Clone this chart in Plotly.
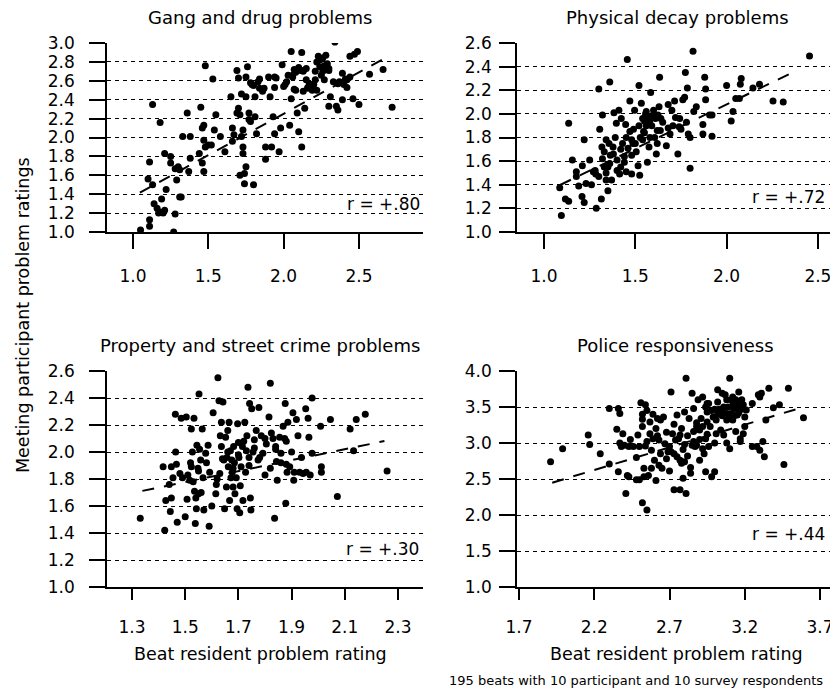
import plotly.graph_objects as go

FONT = "DejaVu Sans"

# ---------------- Data ----------------
titles = ["Gang and drug problems", "Physical decay problems",
          "Property and street crime problems", "Police responsiveness"]
r_labels = ["r = +.80", "r = +.72", "r = +.30", "r = +.44"]

gang_x = [1.05,1.11,1.11,1.11,1.10,1.13,1.13,1.18,1.14,1.16,1.17,1.18,1.19,1.20,1.21,1.22,1.21,1.25,1.25,1.27,
          1.28,1.29,1.30,1.31,1.32,1.31,1.28,1.33,1.37,1.38,1.36,1.38,1.44,1.45,1.46,1.46,1.47,1.47,1.47,1.48,
          1.48,1.50,1.52,1.53,1.54,1.55,1.58,1.61,1.65,1.66,1.66,1.67,1.69,1.70,1.69,1.71,1.71,1.72,1.73,1.73,
          1.73,1.74,1.74,1.75,1.75,1.76,1.75,1.77,1.77,1.78,1.79,1.80,1.81,1.81,1.82,1.83,1.84,1.87,1.88,1.88,
          1.90,1.91,1.92,1.93,1.94,1.94,1.94,1.95,1.97,1.98,1.99,2.00,2.01,2.02,2.03,2.04,2.05,2.05,2.06,2.06,
          2.08,2.08,2.09,2.10,2.11,2.12,2.12,2.13,2.14,2.15,2.15,2.16,2.17,2.19,2.20,2.21,2.21,2.22,2.23,2.24,
          2.25,2.26,2.26,2.27,2.28,2.29,2.30,2.30,2.31,2.33,2.34,2.35,2.36,2.37,2.39,2.39,2.40,2.42,2.44,2.44,
          2.46,2.47,2.50,2.57,2.66,2.72,2.49,2.42,
          2.22,2.24,2.27,2.30,2.07,2.10,2.13,1.78,1.80,1.84,2.07,2.13,2.16,2.36,2.39,2.41,1.86,1.70,1.72]
gang_y = [1.02,1.06,1.13,1.74,1.56,1.50,2.35,2.16,1.30,1.25,1.20,1.21,1.35,1.20,1.23,1.45,1.83,1.80,1.73,1.00,
          1.19,1.55,1.69,1.37,1.37,1.66,1.67,2.01,1.64,2.01,2.26,1.78,1.83,2.32,1.73,2.10,1.97,2.13,1.64,2.76,
          1.90,1.92,1.92,2.62,2.08,2.24,2.01,1.85,2.43,2.10,1.96,2.03,2.71,2.31,2.26,2.24,1.60,2.01,2.08,1.90,
          1.83,1.62,1.51,1.69,2.43,2.75,2.64,2.26,2.19,2.17,2.56,1.50,2.22,2.43,2.04,2.59,2.62,2.52,1.77,1.90,
          2.64,2.43,1.90,2.22,2.64,2.53,2.04,2.63,1.85,2.10,2.77,2.54,2.56,2.59,2.66,2.13,2.91,2.41,2.66,2.64,
          2.69,2.50,2.26,2.06,2.71,1.90,2.90,2.71,2.31,2.61,2.73,2.53,2.57,2.50,2.56,2.61,2.70,2.50,2.86,2.75,
          2.66,2.84,2.70,2.61,2.87,2.78,2.71,2.33,2.43,2.59,3.01,2.33,2.29,2.59,2.68,2.40,2.56,2.53,2.64,2.86,
          2.41,2.88,2.35,2.67,2.72,2.32,2.91,2.61,
          2.80,2.82,2.76,2.73,2.72,2.74,2.70,2.58,2.55,2.52,2.51,2.49,2.52,2.57,2.58,2.62,2.49,2.63,2.46]

decay_x = [1.095,1.086,1.117,1.135,1.135,1.155,1.177,1.177,1.19,1.208,1.22,1.22,1.21,1.23,1.25,1.27,1.283,1.286,
           1.30,1.30,1.305,1.314,1.317,1.32,1.33,1.33,1.34,1.34,1.35,1.35,1.356,1.36,1.363,1.37,1.378,1.383,1.39,
           1.396,1.40,1.41,1.414,1.42,1.423,1.43,1.44,1.447,1.45,1.456,1.46,1.47,1.47,1.48,1.48,1.487,1.49,1.496,
           1.505,1.515,1.52,1.524,1.527,1.533,1.54,1.54,1.545,1.55,1.556,1.56,1.566,1.57,1.575,1.578,1.584,1.59,
           1.597,1.606,1.61,1.615,1.62,1.624,1.63,1.633,1.637,1.64,1.67,1.68,1.69,1.70,1.706,1.715,1.72,1.733,
           1.74,1.743,1.75,1.76,1.77,1.774,1.78,1.785,1.79,1.80,1.80,1.816,1.82,1.834,1.87,1.87,1.88,1.885,1.885,
           1.907,1.92,1.92,2.00,2.025,2.035,2.05,2.07,2.075,2.08,2.144,2.18,2.254,2.31,2.454,
           1.32,1.36,1.38,1.42,1.45,1.50,1.52,1.55,1.58,1.60,1.65,1.44,1.48,1.56,1.62,1.68,1.26,1.28,1.34,1.40]
decay_y = [1.14,1.375,1.28,1.26,1.92,1.61,1.51,1.47,1.39,1.30,1.25,1.78,1.56,1.41,1.61,1.51,1.49,1.20,
           2.21,1.47,1.87,1.28,1.72,1.99,1.55,1.68,1.44,1.78,1.35,1.55,1.75,2.27,1.65,1.44,1.72,2.01,1.80,
           1.92,1.61,2.03,1.49,1.55,1.96,1.75,1.59,1.91,1.51,2.46,1.71,1.85,2.11,1.65,1.49,1.75,1.87,2.03,
           1.68,1.56,2.24,1.48,1.80,2.09,1.96,1.78,1.85,1.94,2.00,1.90,1.59,1.98,1.72,1.94,2.18,1.90,
           1.99,1.80,1.96,1.66,1.86,1.99,2.06,2.31,1.86,1.96,1.73,2.08,1.83,2.03,1.90,2.11,1.97,1.66,
           1.89,1.96,1.87,2.12,2.14,2.35,1.93,2.22,1.83,1.54,1.80,2.53,2.02,2.06,1.91,1.83,2.31,2.21,2.12,
           1.99,1.81,1.99,2.24,1.94,2.02,2.13,2.13,2.25,2.30,2.22,2.25,2.11,2.10,2.49,
           1.62,1.58,1.66,1.70,1.80,1.75,1.90,1.84,1.80,2.03,1.93,1.64,1.78,2.02,1.75,1.88,1.40,1.52,1.50,1.52]

crime_x = [1.331,1.417,1.423,1.427,1.44,1.444,1.448,1.448,1.454,1.463,1.464,1.467,1.47,1.485,1.49,1.50,1.504,1.507,
           1.51,1.517,1.523,1.523,1.527,1.53,1.533,1.535,1.538,1.54,1.542,1.544,1.548,1.55,1.554,1.558,1.56,1.564,
           1.567,1.57,1.577,1.586,1.59,1.592,1.60,1.605,1.615,1.617,1.623,1.627,1.63,1.632,1.636,1.636,1.642,1.645,
           1.648,1.652,1.655,1.657,1.66,1.662,1.665,1.667,1.67,1.672,1.675,1.677,1.68,1.682,1.685,1.687,1.692,1.695,
           1.697,1.70,1.702,1.705,1.707,1.71,1.715,1.717,1.724,1.727,1.73,1.732,1.736,1.74,1.742,1.745,1.747,1.75,
           1.755,1.76,1.767,1.774,1.777,1.786,1.792,1.80,1.805,1.815,1.82,1.824,1.83,1.836,1.84,1.843,1.846,1.855,
           1.86,1.868,1.874,1.876,1.878,1.88,1.883,1.886,1.893,1.90,1.905,1.908,1.91,1.918,1.924,1.93,1.937,1.943,
           1.953,1.955,1.962,1.965,1.97,1.977,1.977,2.009,2.012,2.012,2.046,2.072,2.12,2.133,2.143,2.177,2.259,1.552,
           1.66,1.68,1.70,1.72,1.74,1.76,1.78,1.80,1.84,1.86,1.88,1.64,1.62,1.58,1.55,1.52,1.48,1.82]
crime_y = [1.51,1.89,1.42,1.64,1.76,1.56,1.66,1.89,1.81,2.28,2.00,1.91,1.48,2.25,1.81,1.52,2.26,1.65,
           1.83,1.79,2.17,1.89,2.00,1.78,2.25,1.71,1.47,1.66,1.58,2.05,1.88,1.69,2.02,1.94,1.70,2.17,
           1.81,1.57,1.99,2.05,1.45,1.85,1.60,2.29,1.69,1.76,2.55,2.38,1.84,2.12,2.22,2.04,2.37,1.94,
           1.58,2.11,1.74,1.96,2.16,1.89,2.22,1.64,2.01,1.81,1.94,1.85,1.74,2.04,1.92,1.69,1.81,1.58,
           2.21,2.07,1.96,1.55,1.75,1.89,2.04,1.64,2.22,1.85,2.01,2.12,2.48,1.96,2.36,1.66,1.57,2.32,
           2.00,2.09,2.16,1.94,2.33,2.12,1.99,1.83,2.06,2.26,2.51,2.14,2.10,1.51,2.04,1.93,1.79,2.11,
           1.99,2.19,2.10,2.36,1.62,1.91,1.85,2.22,1.89,2.00,2.29,1.79,1.85,2.24,2.12,1.85,1.96,1.84,
           2.32,1.85,2.25,2.11,1.83,2.40,1.99,2.19,1.89,1.85,2.24,1.67,2.17,2.01,2.24,2.28,1.86,2.43,
           2.00,1.88,1.98,2.08,1.90,2.03,1.96,2.10,2.02,1.92,2.08,1.95,1.80,1.92,1.86,1.92,1.84,1.88]

police_x = [1.91,1.99,2.16,2.17,2.24,2.30,2.30,2.35,2.36,2.36,2.37,2.37,2.38,2.39,2.40,2.41,2.42,2.43,2.43,2.44,
            2.46,2.48,2.48,2.49,2.50,2.50,2.51,2.52,2.52,2.52,2.53,2.53,2.54,2.54,2.55,2.55,2.56,2.57,2.57,2.58,
            2.59,2.59,2.60,2.61,2.61,2.62,2.63,2.63,2.64,2.65,2.66,2.67,2.68,2.69,2.70,2.71,2.71,2.72,2.73,2.73,
            2.74,2.75,2.75,2.76,2.77,2.77,2.78,2.79,2.79,2.80,2.80,2.81,2.81,2.82,2.83,2.84,2.84,2.85,2.85,2.86,
            2.86,2.87,2.88,2.88,2.89,2.90,2.90,2.91,2.92,2.92,2.92,2.93,2.94,2.94,2.94,2.95,2.95,2.96,2.96,2.97,
            2.98,2.99,3.00,3.00,3.01,3.01,3.02,3.02,3.03,3.04,3.05,3.05,3.06,3.06,3.07,3.08,3.08,3.08,3.09,3.10,
            3.10,3.10,3.11,3.11,3.12,3.12,3.13,3.14,3.14,3.15,3.15,3.16,3.16,3.17,3.17,3.18,3.19,3.19,3.20,3.21,
            3.25,3.25,3.28,3.29,3.30,3.30,3.31,3.32,3.33,3.34,3.36,3.39,3.43,3.46,3.49,3.59,2.73,2.77,
            2.95,2.98,3.02,3.05,3.08,3.12,3.13,3.16,3.18,3.20,2.52,2.55,2.58,2.62,2.64,2.68,2.70,
            2.78,2.82,2.86,2.90,2.95,3.00,2.88,2.80]
police_y = [2.74,2.92,3.11,2.98,2.85,3.48,2.71,3.19,2.60,3.48,3.41,3.00,2.95,3.13,2.97,2.30,2.55,2.95,2.53,3.05,
            2.95,2.80,2.49,3.11,2.95,2.49,3.56,3.33,2.17,3.23,2.53,2.65,2.96,3.53,3.45,2.07,2.55,3.13,3.29,2.65,
            3.40,3.06,2.76,3.20,2.48,3.34,2.69,3.04,3.32,2.65,3.36,2.99,2.78,2.88,2.61,3.71,2.88,3.13,3.26,2.85,
            3.04,2.81,3.39,3.06,2.76,3.11,2.72,2.51,2.91,3.43,2.74,2.30,3.90,2.82,3.34,2.66,2.58,3.69,2.97,3.16,
            3.48,2.95,3.23,2.97,3.60,3.18,2.76,3.34,2.92,3.64,3.23,2.85,2.60,3.50,3.06,3.43,3.29,2.95,3.55,3.23,
            2.53,3.36,3.47,2.60,3.32,3.13,3.57,3.74,3.47,3.18,3.69,3.46,3.11,3.50,3.67,3.32,3.41,3.00,3.50,2.92,
            3.90,3.34,3.60,3.41,3.32,3.64,3.48,3.16,3.60,3.39,3.53,3.71,3.46,3.06,3.02,3.47,3.13,3.53,3.23,3.46,
            3.55,2.95,2.95,3.67,3.64,2.90,3.69,3.02,2.81,3.32,3.76,3.49,3.53,2.70,3.76,3.35,2.35,2.35,
            3.55,3.45,3.40,3.38,3.60,3.52,3.38,3.42,3.60,3.36,3.40,3.02,2.90,3.10,2.85,3.15,2.95,
            3.20,3.10,3.02,3.05,3.12,3.00,3.28,2.98]

# regression lines (endpoints)
fit_x = [[1.046, 2.69], [1.088, 2.359], [1.339, 2.249], [1.921, 3.562]]
fit_y = [[1.416, 2.855], [1.398, 2.349], [1.712, 2.081], [2.449, 3.482]]

# axis settings
x_ranges = [[0.8275, 2.925], [0.852, 2.599], [1.206, 2.394], [1.687, 3.806]]
x_ticks = [[1.0, 1.5, 2.0, 2.5], [1.0, 1.5, 2.0, 2.5],
           [1.3, 1.5, 1.7, 1.9, 2.1, 2.3], [1.7, 2.2, 2.7, 3.2, 3.7]]
y_ranges = [[1.0, 3.0], [1.0, 2.6], [1.0, 2.6], [1.0, 4.0]]
y_dticks = [0.2, 0.2, 0.2, 0.5]
r_pos = [(2.92, 1.30), (2.549, 1.30), (2.386, 1.28), (3.746, 1.74)]

xs = [gang_x, decay_x, crime_x, police_x]
ys = [gang_y, decay_y, crime_y, police_y]

# ---------------- Layout geometry (pixels in the 838x693 page) ----------------
PAGE_W, PAGE_H = 838, 693
OFF = 8  # page body margin
W, H = PAGE_W - OFF, PAGE_H - OFF


def px(x):
    return (x - OFF) / W


def py(y):
    return 1 - (y - OFF) / H


x_dom_px = [(107, 423), (517, 836), (107, 423), (517, 836)]
y_dom_px = [(43, 232), (43, 232), (371, 587), (371, 587)]
title_pos = [(260, 18), (677, 18), (260, 345), (675, 345)]

fig = go.Figure()
layout = dict(
    width=W, height=H, margin=dict(l=0, r=0, t=0, b=0, pad=0, autoexpand=False),
    paper_bgcolor="white", plot_bgcolor="white", showlegend=False,
    font=dict(family=FONT, size=17, color="black"),
)
annotations = []
for i in range(4):
    sfx = "" if i == 0 else str(i + 1)
    xa, ya = "x" + sfx, "y" + sfx
    fig.add_trace(go.Scatter(
        x=fit_x[i], y=fit_y[i], mode="lines", xaxis=xa, yaxis=ya,
        line=dict(color="black", width=2, dash="12px,10px"), hoverinfo="skip"))
    fig.add_trace(go.Scatter(
        x=xs[i], y=ys[i], mode="markers", xaxis=xa, yaxis=ya,
        marker=dict(color="black", size=7, line=dict(width=0))))
    top = i < 2
    left = i % 2 == 0
    layout["xaxis" + sfx] = dict(
        domain=[px(x_dom_px[i][0]), px(x_dom_px[i][1])], automargin=False,
        anchor=ya, range=x_ranges[i], tickvals=x_ticks[i], tickformat=".1f",
        showline=True, linecolor="black", linewidth=1.5,
        ticks="outside", ticklen=15 if top else 11, tickwidth=1.5, tickcolor="black",
        ticklabelstandoff=13, showgrid=False, zeroline=False,
        tickfont=dict(family=FONT, size=17, color="black"))
    layout["yaxis" + sfx] = dict(
        domain=[py(y_dom_px[i][1]), py(y_dom_px[i][0])], automargin=False,
        anchor=xa, range=y_ranges[i], dtick=y_dticks[i], tick0=1.0, tickformat=".1f",
        showline=True, linecolor="black", linewidth=1.5,
        ticks="outside", ticklen=16, tickwidth=1.5, tickcolor="black",
        ticklabelstandoff=11 if left else 4,
        showgrid=True, gridcolor="black", gridwidth=1, griddash="4px,4px",
        zeroline=False, tickfont=dict(family=FONT, size=17, color="black"))
    annotations.append(dict(
        text=titles[i], xref="paper", yref="paper",
        x=px(title_pos[i][0]), y=py(title_pos[i][1]),
        xanchor="center", yanchor="middle", showarrow=False,
        font=dict(family=FONT, size=18, color="black")))
    annotations.append(dict(
        text=r_labels[i], xref=xa, yref=ya, x=r_pos[i][0], y=r_pos[i][1],
        xanchor="right", yanchor="middle", showarrow=False,
        font=dict(family=FONT, size=17, color="black")))

annotations += [
    dict(text="Meeting participant problem ratings", xref="paper", yref="paper",
         x=px(23), y=py(315), textangle=-90, xanchor="center", yanchor="middle",
         showarrow=False, font=dict(family=FONT, size=17.5, color="black")),
    dict(text="Beat resident problem rating", xref="paper", yref="paper",
         x=px(260), y=py(654), xanchor="center", yanchor="middle",
         showarrow=False, font=dict(family=FONT, size=17.5, color="black")),
    dict(text="Beat resident problem rating", xref="paper", yref="paper",
         x=px(676), y=py(654), xanchor="center", yanchor="middle",
         showarrow=False, font=dict(family=FONT, size=17.5, color="black")),
    dict(text="195 beats with 10 participant and 10 survey respondents", xref="paper", yref="paper",
         x=px(636), y=py(680), xanchor="center", yanchor="middle",
         showarrow=False, font=dict(family=FONT, size=13, color="black")),
]
layout["annotations"] = annotations
fig.update_layout(**layout)
fig.write_html("out.html")
